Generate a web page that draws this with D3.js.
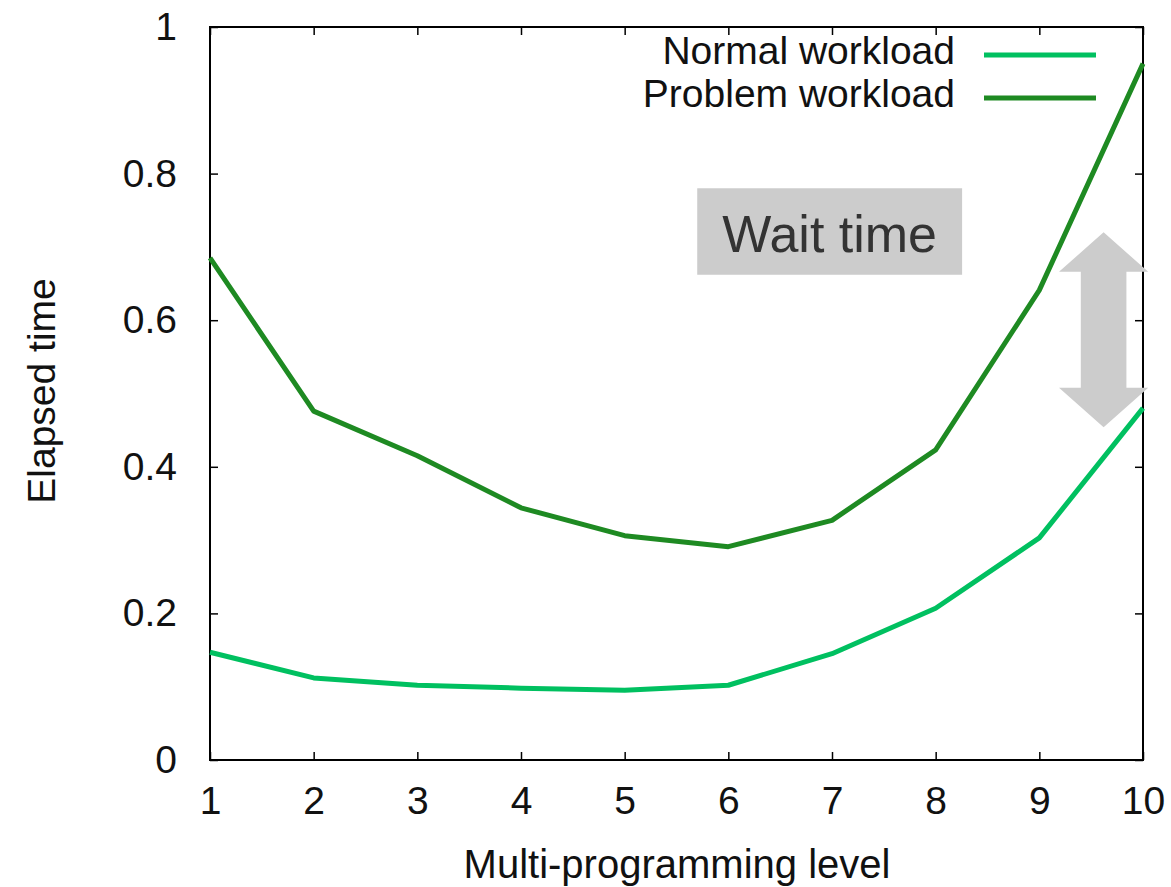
<!DOCTYPE html>
<html>
<head>
<meta charset="utf-8">
<script src="https://cdn.jsdelivr.net/npm/d3@7"></script>
<style>
  body { margin: 0; background: white; }
  svg { font-family: "Liberation Sans", Arial, sans-serif; }
</style>
</head>
<body>
<svg width="1171" height="887"></svg>
<script>
// data
let levels = [1, 2, 3, 4, 5, 6, 7, 8, 9, 10]
let normal = [0.147, 0.112, 0.102, 0.098, 0.095, 0.102, 0.145, 0.207, 0.303, 0.48]
let problem = [0.685, 0.476, 0.415, 0.344, 0.306, 0.291, 0.327, 0.423, 0.641, 0.95]
let yTicks = [0, 0.2, 0.4, 0.6, 0.8, 1]
let seriesNames = ["Normal workload", "Problem workload"]
let seriesColors = ["#00c060", "#1e8a22"]

let svg = d3.select("svg")

let plotLeft = 210, plotRight = 1143, plotTop = 27, plotBottom = 760

let x = d3.scaleLinear().domain([1, 10]).range([plotLeft, plotRight])
let y = d3.scaleLinear().domain([0, 1]).range([plotBottom, plotTop])

// mirrored inward ticks, gnuplot style
let tick = 8
svg.append("g")
  .attr("transform", `translate(0,${plotBottom})`)
  .call(d3.axisBottom(x).tickValues(levels).tickSizeInner(-tick).tickSizeOuter(0).tickPadding(26).tickFormat(d3.format("d")))
  .call(g => g.select(".domain").remove())
svg.append("g")
  .attr("transform", `translate(0,${plotTop})`)
  .call(d3.axisTop(x).tickValues(levels).tickSizeInner(-tick).tickSizeOuter(0).tickFormat(""))
  .call(g => g.select(".domain").remove())
svg.append("g")
  .attr("transform", `translate(${plotLeft},0)`)
  .call(d3.axisLeft(y).tickValues(yTicks).tickSizeInner(-tick).tickSizeOuter(0).tickPadding(33).tickFormat(d => d === 0 || d === 1 ? d3.format("d")(d) : d3.format(".1f")(d)))
  .call(g => g.select(".domain").remove())
svg.append("g")
  .attr("transform", `translate(${plotRight},0)`)
  .call(d3.axisRight(y).tickValues(yTicks).tickSizeInner(-tick).tickSizeOuter(0).tickFormat(""))
  .call(g => g.select(".domain").remove())

svg.selectAll(".tick line").style("stroke", "black").style("stroke-width", 1.5)
svg.selectAll(".tick text")
  .style("font-size", "39px")
  .style("fill", "#111")
  .style("font-family", "Liberation Sans, Arial, sans-serif")

svg.append("rect")
  .attr("x", plotLeft).attr("y", plotTop)
  .attr("width", plotRight - plotLeft).attr("height", plotBottom - plotTop)
  .style("fill", "none")
  .style("stroke", "black")
  .style("stroke-width", 2)

// annotation box
svg.append("rect")
  .attr("x", x(5.7)).attr("y", y(0.78))
  .attr("width", x(8.255) - x(5.7)).attr("height", y(0.662) - y(0.78))
  .style("fill", "#cccccc")
svg.append("text")
  .attr("x", (x(5.7) + x(8.255)) / 2).attr("y", 252)
  .attr("text-anchor", "middle")
  .style("font-size", "52px")
  .style("fill", "#333")
  .text("Wait time")

// double arrow
let ax = x(9.62), hw = x(9.62) - x(9.19), sw = x(9.62) - x(9.4)
let yTop = y(0.72), yTopHead = y(0.666), yBotHead = y(0.508), yBot = y(0.454)
svg.append("path")
  .attr("d", `M${ax},${yTop} L${ax + hw},${yTopHead} L${ax + sw},${yTopHead} L${ax + sw},${yBotHead} L${ax + hw},${yBotHead}
    L${ax},${yBot} L${ax - hw},${yBotHead} L${ax - sw},${yBotHead} L${ax - sw},${yTopHead} L${ax - hw},${yTopHead} Z`)
  .style("fill", "#cccccc")

let line = d3.line().x((d, i) => x(levels[i])).y(d => y(d))

;[normal, problem].forEach((vals, k) => {
  svg.append("path")
    .datum(vals)
    .attr("d", line)
    .style("fill", "none")
    .style("stroke", seriesColors[k])
    .style("stroke-width", 5)
    .style("stroke-linejoin", "round")
})

// legend
seriesNames.forEach((name, k) => {
  let ly = 55 + k * 43
  svg.append("text")
    .attr("x", 955).attr("y", ly + 9)
    .attr("text-anchor", "end")
    .style("font-size", "39px")
    .style("fill", "#111")
    .text(name)
  svg.append("line")
    .attr("x1", 984).attr("x2", 1096)
    .attr("y1", ly).attr("y2", ly)
    .style("stroke", seriesColors[k])
    .style("stroke-width", 5)
})

// axis titles
svg.append("text")
  .attr("x", 677).attr("y", 878)
  .attr("text-anchor", "middle")
  .style("font-size", "40px")
  .style("fill", "#111")
  .text("Multi-programming level")
svg.append("text")
  .attr("transform", "translate(55,391) rotate(-90)")
  .attr("text-anchor", "middle")
  .style("font-size", "39px")
  .style("fill", "#111")
  .text("Elapsed time")
</script>
</body>
</html>
